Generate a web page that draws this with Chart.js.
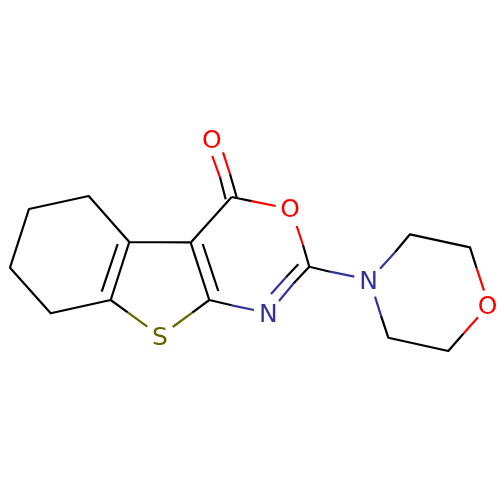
<!DOCTYPE html>
<html>
<head>
<meta charset="utf-8">
<style>html,body{margin:0;padding:0;background:#fff}canvas{display:block}</style>
<script src="https://cdn.jsdelivr.net/npm/chart.js@4"></script>
</head>
<body>
<canvas id="c" width="500" height="500"></canvas>
<script>
// Bond polylines, one list per colour: each entry is [x1,y1,x2,y2,...]
const blackBonds = [
  [231.7,197, 191,242.3],
  [191,242.3, 129.3,242, 88.7,196, 29,209, 10,267.7, 50.7,313.3, 110.7,300, 129.3,242],
  [117.7,244, 101.7,291.7],
  [110.7,300, 127.7,312.3],
  [192.3,312.7, 209.3,300, 190.6,242.3],
  [202.7,244, 218.3,291],
  [209.3,300, 231.7,305.3],
  [225.7,199.3, 220,177.3],
  [236.7,197.3, 230,174],
  [231.7,197, 251.7,201.2],
  [303,245, 309.3,266.7, 330,271.7],
  [309.3,266.7, 293.5,283.5],
  [298.3,264.3, 286,277.3],
  [395,252.3, 410,234.3, 470,247.3, 476.7,268.3],
  [463.3,333.7, 448.3,351, 388.3,337.7, 381,315.7]
];
const redBonds = [
  [220,177.3, 212.3,156],
  [230,174, 223,152.3],
  [251.7,201.2, 275.7,206],
  [296.7,226, 303,245],
  [476.7,268.3, 484,290.7],
  [478,317.3, 463.3,333.7]
];
const blueBonds = [
  [231.7,305.3, 254,310],
  [293.5,283.5, 279,301],
  [286,277.3, 271,294],
  [330,271.7, 354.3,276.7],
  [380,268.7, 395,252.3],
  [381,315.7, 375,296.7]
];
const oliveBonds = [
  [127.7,312.3, 147.3,326.7],
  [172.7,327, 192.3,312.7]
];
const atomLabels = ["O","O","N","S","N","O"];
const atomX = [211.9,290.2,268.3,160,368.5,487.5];
const atomY = [141.2,210.5,315.8,338.3,282.3,307.2];
const atomColors = ["#ff0000","#ff0000","#333399","#666600","#333399","#ff0000"];

function toPoints(paths){
  const pts = [];
  paths.forEach(p=>{
    for(let i=0;i<p.length;i+=2) pts.push({x:p[i],y:p[i+1]});
    pts.push({x:NaN,y:NaN});
  });
  return pts;
}
function ds(name,paths,color){
  return {label:name,data:toPoints(paths),borderColor:color,backgroundColor:color,borderWidth:2.2,
    pointRadius:0,showLine:true,spanGaps:false,tension:0,borderCapStyle:'butt',borderJoinStyle:'round'};
}
const atomPlugin = {
  id:'atoms',
  afterDatasetsDraw(chart){
    const {ctx,scales:{x,y}} = chart;
    ctx.save();
    ctx.font = '25px "DejaVu Sans"';
    ctx.textAlign='center';
    ctx.textBaseline='middle';
    atomLabels.forEach((t,i)=>{
      ctx.fillStyle=atomColors[i];
      ctx.fillText(t,x.getPixelForValue(atomX[i]),y.getPixelForValue(atomY[i]));
    });
    ctx.restore();
  }
};
new Chart(document.getElementById('c'),{
  type:'scatter',
  data:{datasets:[
    ds('C',blackBonds,'#000000'),
    ds('O',redBonds,'#ff0000'),
    ds('N',blueBonds,'#333399'),
    ds('S',oliveBonds,'#666600')
  ]},
  options:{
    responsive:false,animation:false,devicePixelRatio:1,
    layout:{padding:0},
    plugins:{legend:{display:false},tooltip:{enabled:false},title:{display:false}},
    scales:{
      x:{type:'linear',min:0,max:500,display:false},
      y:{type:'linear',min:0,max:500,reverse:true,display:false}
    }
  },
  plugins:[atomPlugin]
});
</script>
</body>
</html>
